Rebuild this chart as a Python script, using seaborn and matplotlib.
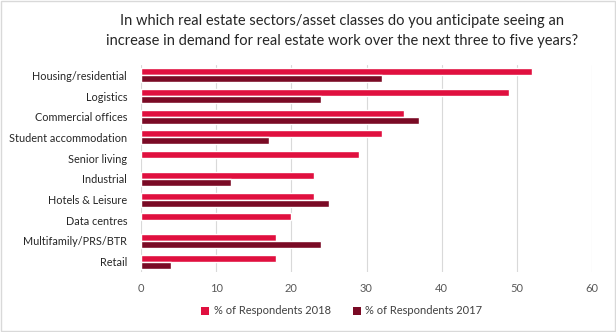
import matplotlib
matplotlib.use("Agg")
import matplotlib.pyplot as plt
import seaborn as sns
import pandas as pd
import numpy as np
from matplotlib.patches import Patch

categories = ["Housing/residential", "Logistics", "Commercial offices", "Student accommodation",
              "Senior living", "Industrial", "Hotels & Leisure", "Data centres",
              "Multifamily/PRS/BTR", "Retail"]
values_2018 = [52, 49, 35, 32, 29, 23, 23, 20, 18, 18]
values_2017 = [32, 24, 37, 17, np.nan, 12, 25, np.nan, 24, 4]
series = ["% of Respondents 2018", "% of Respondents 2017"]
xticks = [0, 10, 20, 30, 40, 50, 60]
title = ("In which real estate sectors/asset classes do you anticipate seeing an\n"
         "increase in demand for real estate work over the next three to five years?")

df = pd.DataFrame({
    "category": categories * 2,
    "value": values_2018 + values_2017,
    "series": [series[0]] * len(categories) + [series[1]] * len(categories),
})

sns.set_theme(style="white")
plt.rcParams["font.family"] = ["Lato", "DejaVu Sans"]

fig = plt.figure(figsize=(6.16, 3.32), dpi=100)
ax = fig.add_axes([141/616, 1 - 272/332, (592-141)/616, (272-65)/332])

palette = {series[0]: "#E0103F", series[1]: "#7A0A25"}
sns.barplot(data=df, y="category", x="value", hue="series", order=categories,
            hue_order=series, palette=palette, orient="h", width=0.68, gap=0,
            saturation=1, ax=ax, legend=False)

ax.set_xlim(0, 60)
ax.set_xticks(xticks)
ax.set_xticklabels([str(t) for t in xticks], fontsize=8, color="#595959")
ax.tick_params(axis="y", labelsize=7.8, colors="#262626", length=0, pad=10)
ax.tick_params(axis="x", length=0, pad=8)
ax.set_xlabel("")
ax.set_ylabel("")
ax.xaxis.grid(True, color="#D9D9D9", linewidth=0.8)
ax.set_axisbelow(True)
for s in ["top", "right", "bottom", "left"]:
    ax.spines[s].set_visible(False)

fig.text(0.555, 1 - 31/332, title, ha="center", va="center", fontsize=10.5,
         color="#262626", linespacing=1.5)

handles = [Patch(facecolor=palette[s], edgecolor="none") for s in series]
fig.legend(handles, series, loc="center", bbox_to_anchor=(0.555, 1 - 311/332), ncol=2,
           frameon=False, fontsize=8, handlelength=0.7, handleheight=0.7,
           columnspacing=2.0, handletextpad=0.4, labelcolor="#404040")

fig.patches.append(plt.Rectangle((0.001, 0.002), 0.997, 0.995, transform=fig.transFigure,
                                 fill=False, edgecolor="#D9D9D9", linewidth=1))
fig.savefig("out.png", dpi=100)
